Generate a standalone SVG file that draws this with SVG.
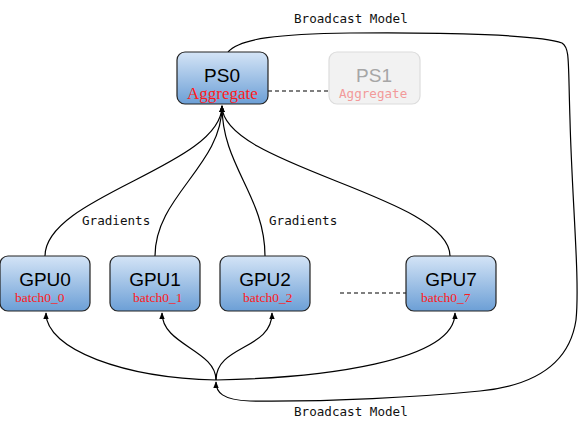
<svg xmlns="http://www.w3.org/2000/svg" width="580" height="424" viewBox="0 0 580 424">
<defs>
<linearGradient id="blue" x1="0" y1="0" x2="0" y2="1">
<stop offset="0" stop-color="#d4e4f6"/>
<stop offset="1" stop-color="#6c9fd6"/>
</linearGradient>
<marker id="arr" viewBox="0 0 10 10" refX="9" refY="5" markerWidth="7" markerHeight="7" orient="auto" markerUnits="userSpaceOnUse">
<path d="M0,1 L10,5 L0,9 Z" fill="#000"/>
</marker>
<style>
.box{fill:url(#blue);stroke:#222;stroke-width:1.2}
.ghost{fill:#f2f2f2;stroke:#dcdcdc;stroke-width:1.2}
.title{font-family:"Liberation Sans",Arial,sans-serif;font-size:19px;text-anchor:middle;fill:#000}
.sub{font-family:"Liberation Serif","Times New Roman",serif;font-size:13.5px;fill:#ff1a1a}
.mono{font-family:"DejaVu Sans Mono",monospace;font-size:12.6px;fill:#111}
.edge{fill:none;stroke:#000;stroke-width:1.2}
.dash{fill:none;stroke:#000;stroke-width:1.2;stroke-dasharray:4,3}
</style>
</defs>
<rect width="580" height="424" fill="#fff"/>
<g id="connectors">
<path class="edge" marker-end="url(#arr)" d="M45,256 C45,196 222,166 222,106"/>
<path class="edge" marker-end="url(#arr)" d="M155,256 C155,196 222,166 222,106"/>
<path class="edge" marker-end="url(#arr)" d="M265,256 C265,196 222,166 222,106"/>
<path class="edge" marker-end="url(#arr)" d="M450,256 C450,196 222,166 222,106"/>
<path class="edge" marker-end="url(#arr)" d="M228,52 C240,38 280,34 350,33 C450,32 540,35 562,43 C570,48 568,60 570,120 C572,200 580,280 576,320 C570,360 540,385 480,391 C420,397 330,402 250,401 C222,400 216,392 216,382"/>
<path class="edge" marker-end="url(#arr)" d="M216,380 C125,378 46,350 46,313"/>
<path class="edge" marker-end="url(#arr)" d="M216,380 C216,350 162,345 162,313"/>
<path class="edge" marker-end="url(#arr)" d="M216,380 C216,345 272,350 272,313"/>
<path class="edge" marker-end="url(#arr)" d="M216,380 C320,378 455,362 455,313"/>
<line class="dash" x1="268" y1="91" x2="329" y2="91"/>
<line class="dash" x1="340" y1="293" x2="406" y2="293"/>
<text class="mono" x="294" y="23">Broadcast Model</text>
<text class="mono" x="294" y="416">Broadcast Model</text>
<text class="mono" x="82" y="225">Gradients</text>
<text class="mono" x="269" y="225">Gradients</text>
</g>
<g id="PS0">
<rect class="box" x="177" y="52" width="91" height="52" rx="8"/>
<text class="title" x="222" y="82">PS0</text>
<text class="sub" x="187" y="99" style="font-size:17px">Aggregate</text>
</g>
<g id="PS1">
<rect class="ghost" x="329" y="52" width="91" height="52" rx="8"/>
<text class="title" x="374" y="82" style="fill:#a6a6a6">PS1</text>
<text class="mono" x="339" y="98" style="fill:#f29a9a">Aggregate</text>
</g>
<g id="GPU0">
<rect class="box" x="0" y="256" width="90" height="55" rx="8"/>
<text class="title" x="45" y="286">GPU0</text>
<text class="sub" x="15" y="302">batch0_0</text>
</g>
<g id="GPU1">
<rect class="box" x="110" y="256" width="90" height="55" rx="8"/>
<text class="title" x="155" y="286">GPU1</text>
<text class="sub" x="133" y="302">batch0_1</text>
</g>
<g id="GPU2">
<rect class="box" x="220" y="256" width="90" height="55" rx="8"/>
<text class="title" x="265" y="286">GPU2</text>
<text class="sub" x="243" y="302">batch0_2</text>
</g>
<g id="GPU7">
<rect class="box" x="406" y="256" width="90" height="55" rx="8"/>
<text class="title" x="451" y="286">GPU7</text>
<text class="sub" x="421" y="302">batch0_7</text>
</g>
</svg>
